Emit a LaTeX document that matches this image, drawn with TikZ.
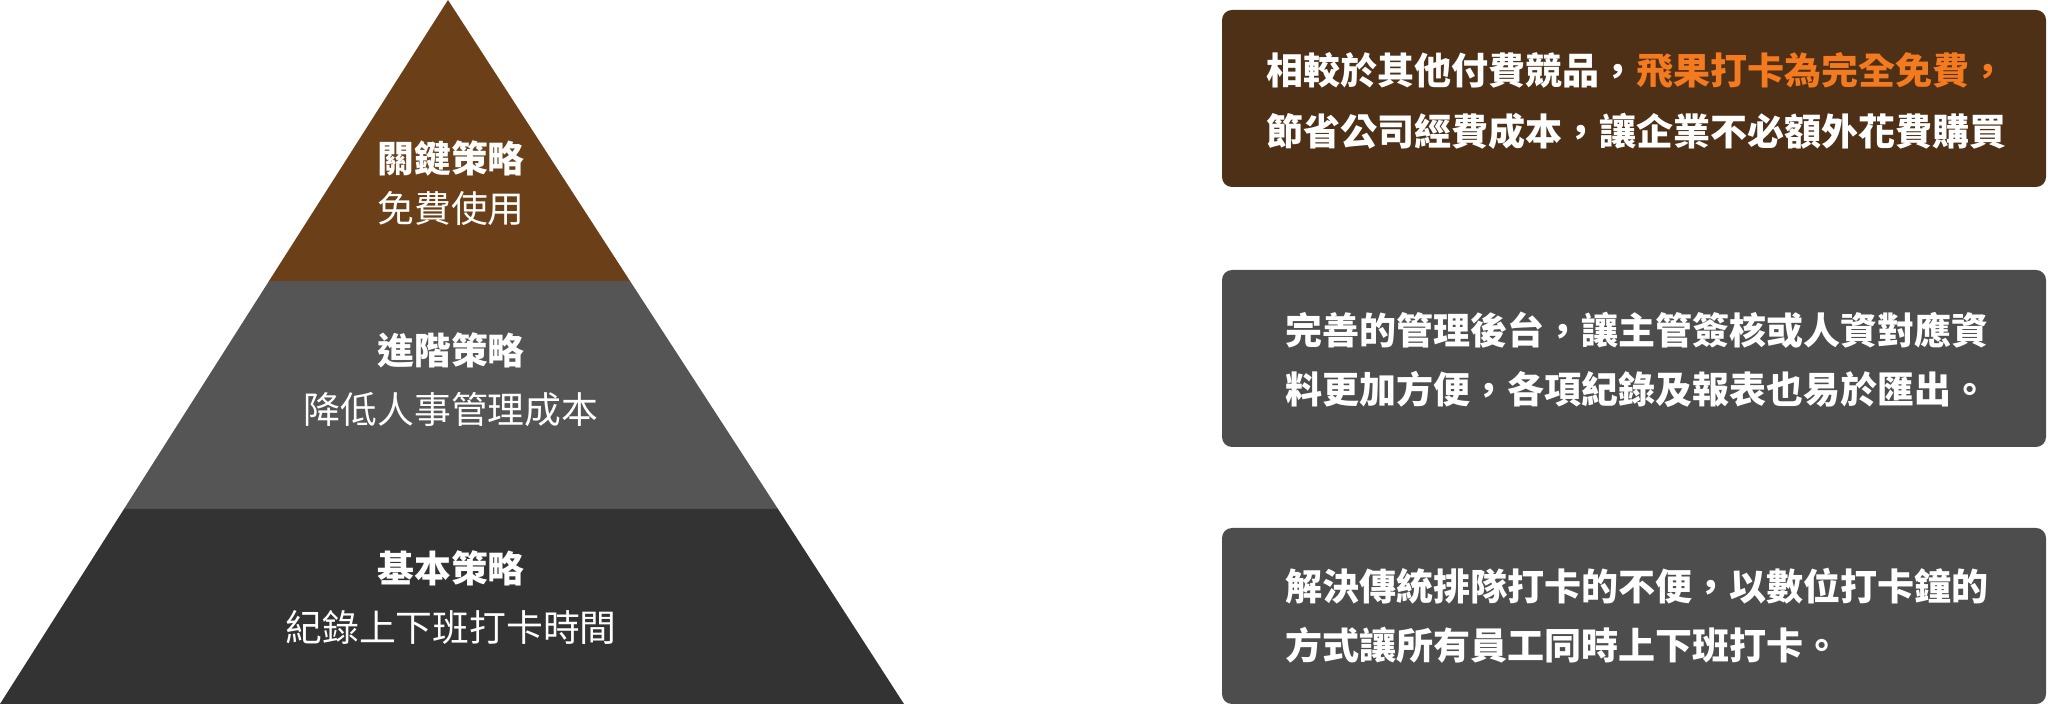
\documentclass[tikz,border=0pt]{standalone}
\usepackage{fontspec}
\newfontfamily\cjk{Noto Sans CJK TC}
\definecolor{topbrown}{HTML}{6B4019}
\definecolor{midgray}{HTML}{555555}
\definecolor{botgray}{HTML}{333333}
\definecolor{boxbrown}{HTML}{4E3017}
\definecolor{boxgray}{HTML}{4D4D4D}
\definecolor{hilite}{HTML}{F47A20}
\tikzset{
  title/.style={text=white,font=\cjk\bfseries\fontsize{18.4}{22}\selectfont,inner sep=0pt},
  sub/.style={text=white,font=\cjk\fontsize{18.4}{22}\selectfont,inner sep=0pt},
  boxtext/.style={text=white,font=\cjk\bfseries\fontsize{18.5}{22}\selectfont,inner sep=0pt,anchor=west},
  panel/.style={rounded corners=5pt,draw=none}
}
\begin{document}
\begin{tikzpicture}[x=0.5pt,y=-0.5pt]
\useasboundingbox (0,0) rectangle (2048,704);
% pyramid
\fill[topbrown] (448,0) -- (630,281) -- (269,281) -- cycle;
\fill[midgray] (269,281) -- (630,281) -- (778,509) -- (124,509) -- cycle;
\fill[botgray] (124,509) -- (778,509) -- (904,704) -- (0,704) -- cycle;
\node[title] (t1) at (451,158) {關鍵策略};
\node[sub] (s1) at (451,209) {免費使用};
\node[title] (t2) at (451,350) {進階策略};
\node[sub] (s2) at (451,409) {降低人事管理成本};
\node[title] (t3) at (451,568) {基本策略};
\node[sub] (s3) at (451,627) {紀錄上下班打卡時間};
% panels
\fill[boxbrown,panel] (1222,10) rectangle (2046,187);
\fill[boxgray,panel] (1222,270) rectangle (2046,447);
\fill[boxgray,panel] (1222,528) rectangle (2046,704);
\node[boxtext] (b1a) at (1266,70) {相較於其他付費競品，\textcolor{hilite}{飛果打卡為完全免費，}};
\node[boxtext] (b1b) at (1266,131) {節省公司經費成本，讓企業不必額外花費購買};
\node[boxtext] (b2a) at (1285,330) {完善的管理後台，讓主管簽核或人資對應資};
\node[boxtext] (b2b) at (1285,389) {料更加方便，各項紀錄及報表也易於匯出。};
\node[boxtext] (b3a) at (1285,586) {解決傳統排隊打卡的不便，以數位打卡鐘的};
\node[boxtext] (b3b) at (1285,645) {方式讓所有員工同時上下班打卡。};
\end{tikzpicture}
\end{document}
